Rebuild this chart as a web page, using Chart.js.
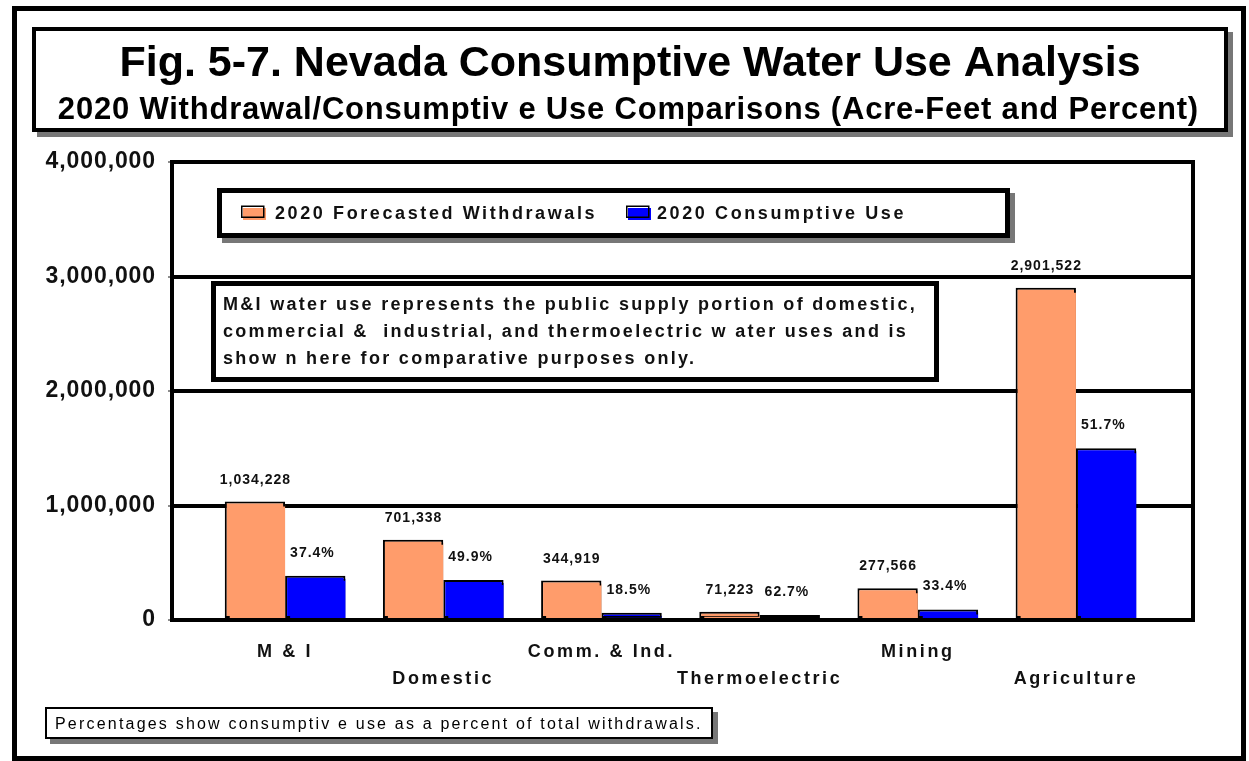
<!DOCTYPE html>
<html>
<head>
<meta charset="utf-8">
<title>Nevada Consumptive Water Use Analysis</title>
<script src="https://cdn.jsdelivr.net/npm/chart.js@4/dist/chart.umd.min.js"></script>
<style>
  html, body { margin: 0; padding: 0; background: #fff; }
  canvas { display: block; }
</style>
</head>
<body>
<canvas id="chart" width="1249" height="761"></canvas>
<script>
// ---- data ----
const categories = ['M & I', 'Domestic', 'Comm. & Ind.', 'Thermoelectric', 'Mining', 'Agriculture'];
const withdrawals = [1034228, 701338, 344919, 71223, 277566, 2901522];
const consumptiveUse = [386801, 349968, 63810, 44657, 92707, 1500087];
const yTickValues = [0, 1000000, 2000000, 3000000, 4000000];
const seriesNames = ['2020 Forecasted Withdrawals', '2020 Consumptive Use'];
const seriesColors = ['#FF9C6B', '#0000FF'];

const titleText = 'Fig. 5-7. Nevada Consumptive Water Use Analysis';
const subtitleText = '2020 Withdrawal/Consumptiv e Use Comparisons (Acre-Feet and Percent)';
const noteLines = [
  'M&I water use represents the public supply portion of domestic,',
  'commercial &  industrial, and thermoelectric w ater uses and is',
  'show n here for comparative purposes only.'
];
const footnoteText = 'Percentages show consumptiv e use as a percent of total withdrawals.';

// ---- helpers ----
const FAMILY = '"Liberation Sans", Arial, Helvetica, sans-serif';

function withCommas(v) {
  return String(v).replace(/\B(?=(\d{3})+(?!\d))/g, ',');
}

function spacedText(ctx, str, x, y, font, spacing, align, color) {
  ctx.save();
  ctx.font = font;
  ctx.letterSpacing = spacing + 'px';
  ctx.fillStyle = color || '#000';
  ctx.textBaseline = 'alphabetic';
  ctx.textAlign = 'left';
  const w = ctx.measureText(str).width - spacing;
  let left = x;
  if (align === 'center') left = x - w / 2;
  else if (align === 'right') left = x - w;
  ctx.fillText(str, left, y);
  ctx.restore();
}

function shadowBox(ctx, x, y, w, h, lineWidth, shadow) {
  // x, y, w, h describe the outer edge of the frame
  ctx.save();
  if (shadow) {
    ctx.fillStyle = '#777777';
    ctx.fillRect(x + shadow, y + shadow, w, h);
  }
  ctx.fillStyle = '#ffffff';
  ctx.fillRect(x, y, w, h);
  ctx.strokeStyle = '#000000';
  ctx.lineWidth = lineWidth;
  ctx.strokeRect(x + lineWidth / 2, y + lineWidth / 2, w - lineWidth, h - lineWidth);
  ctx.restore();
}

// tick labels of the axes are drawn with a little letter spacing
function spaceScaleLabels(scale, px) {
  if (scale._spaced === px) return;
  const base = Object.getPrototypeOf(scale).drawLabels;
  scale.drawLabels = function (area) {
    const ctx = this.ctx;
    ctx.save();
    ctx.letterSpacing = px + 'px';
    base.call(this, area);
    ctx.restore();
  };
  scale._spaced = px;
}

// ---- decorations: page frame, title block, legend, note boxes ----
const decorations = {
  id: 'decorations',
  beforeDraw(chart) {
    const ctx = chart.ctx;
    ctx.save();
    ctx.fillStyle = '#ffffff';
    ctx.fillRect(0, 0, chart.width, chart.height);
    // outer frame
    ctx.strokeStyle = '#000';
    ctx.lineWidth = 5;
    ctx.strokeRect(14.5, 8.5, 1229, 750);
    ctx.restore();

    // title block
    shadowBox(ctx, 32, 27, 1196, 105, 4, 5);
    spacedText(ctx, titleText, 630, 76, 'bold 43px ' + FAMILY, 0, 'center');
    spacedText(ctx, subtitleText, 628, 119, 'bold 31px ' + FAMILY, 0.8, 'center');

    // footnote
    shadowBox(ctx, 45, 707, 668, 32, 2, 5);
    spacedText(ctx, footnoteText, 55, 729, '16px ' + FAMILY, 2.2, 'left');

    spaceScaleLabels(chart.scales.x, 2.6);
    spaceScaleLabels(chart.scales.y, 0.9);
  },
  beforeDatasetDraw(chart, args) {
    const ctx = chart.ctx;
    ctx.save();
    ctx.shadowColor = chart.data.datasets[args.index].backgroundColor;
    ctx.shadowOffsetX = 3;
    ctx.shadowOffsetY = 3;
    ctx.shadowBlur = 0;
  },
  afterDatasetDraw(chart) {
    chart.ctx.restore();
  },
  afterDatasetsDraw(chart) {
    const ctx = chart.ctx;
    const area = chart.chartArea;
    // right edge of the plot frame
    ctx.save();
    ctx.strokeStyle = '#000';
    ctx.lineWidth = 4;
    ctx.beginPath();
    ctx.moveTo(area.right, area.top - 2);
    ctx.lineTo(area.right, area.bottom + 2);
    ctx.stroke();
    ctx.restore();

    // value labels
    const labelFont = 'bold 14px ' + FAMILY;
    const metaW = chart.getDatasetMeta(0);
    const metaC = chart.getDatasetMeta(1);
    metaW.data.forEach((bar, i) => {
      spacedText(ctx, withCommas(withdrawals[i]), bar.x, bar.y - 18, labelFont, 1, 'center', '#111');
    });
    metaC.data.forEach((bar, i) => {
      const pct = (consumptiveUse[i] / withdrawals[i] * 100).toFixed(1) + '%';
      spacedText(ctx, pct, bar.x - bar.width / 2 + 5, bar.y - 19, labelFont, 1, 'left', '#111');
    });

    // legend box
    shadowBox(ctx, 217, 188, 793, 50, 5, 5);
    const swatches = [[241, 275], [626, 657]];
    chart.data.datasets.forEach((ds, i) => {
      const [sx, tx] = swatches[i];
      ctx.save();
      ctx.fillStyle = ds.backgroundColor;
      ctx.fillRect(sx + 2, 208, 23, 12);
      ctx.strokeStyle = '#000';
      ctx.lineWidth = 1.5;
      ctx.strokeRect(sx + 0.75, 206.25, 22, 11);
      ctx.restore();
      spacedText(ctx, ds.label, tx, 219, 'bold 18px ' + FAMILY, 2.6, 'left', '#111');
    });

    // explanatory note
    shadowBox(ctx, 211, 281, 728, 101, 5, 0);
    noteLines.forEach((line, i) => {
      spacedText(ctx, line, 223, 310 + i * 27, 'bold 18px ' + FAMILY, 2.3, 'left', '#111');
    });
  }
};

// ---- chart ----
const ctx = document.getElementById('chart').getContext('2d');
new Chart(ctx, {
  type: 'bar',
  data: {
    datasets: [
      {
        label: seriesNames[0],
        data: withdrawals.map((v, i) => ({ x: i, y: v })),
        backgroundColor: seriesColors[0]
      },
      {
        label: seriesNames[1],
        data: consumptiveUse.map((v, i) => ({ x: i, y: v })),
        backgroundColor: seriesColors[1]
      }
    ]
  },
  options: {
    responsive: false,
    devicePixelRatio: 1,
    animation: false,
    layout: { padding: { top: 162, right: 56, bottom: 51, left: 0 } },
    datasets: {
      bar: {
        categoryPercentage: 0.763,
        barPercentage: 1,
        borderColor: '#000',
        borderWidth: 2,
        borderSkipped: false
      }
    },
    plugins: {
      legend: { display: false },
      title: { display: false },
      tooltip: { enabled: false }
    },
    scales: {
      x: {
        type: 'linear',
        bounds: 'data',
        offset: false,
        min: -0.715,
        max: 5.74,
        grid: { display: false, offset: false },
        border: { display: false },
        afterBuildTicks: (scale) => {
          scale.ticks = categories.map((_, i) => ({ value: i }));
        },
        afterFit: (scale) => { scale.height = 90; },
        ticks: {
          autoSkip: false,
          maxRotation: 0,
          padding: 11,
          color: '#111',
          font: { family: FAMILY, size: 18, weight: 'bold', lineHeight: 1.5 },
          callback: (value) => {
            const i = Math.round(value);
            return i % 2 ? ['', categories[i]] : categories[i];
          }
        }
      },
      y: {
        min: 0,
        max: 4000000,
        afterBuildTicks: (scale) => {
          scale.ticks = yTickValues.map((v) => ({ value: v }));
        },
        afterFit: (scale) => { scale.width = 172; },
        grid: {
          color: '#000',
          lineWidth: 4,
          tickColor: '#8c8c8c',
          tickLength: 4,
          tickWidth: 2
        },
        border: { display: true, color: '#000', width: 4 },
        ticks: {
          padding: 12,
          color: '#111',
          font: { family: FAMILY, size: 23, weight: 'bold' },
          callback: (value) => withCommas(value)
        }
      }
    }
  },
  plugins: [decorations]
});
</script>
</body>
</html>
